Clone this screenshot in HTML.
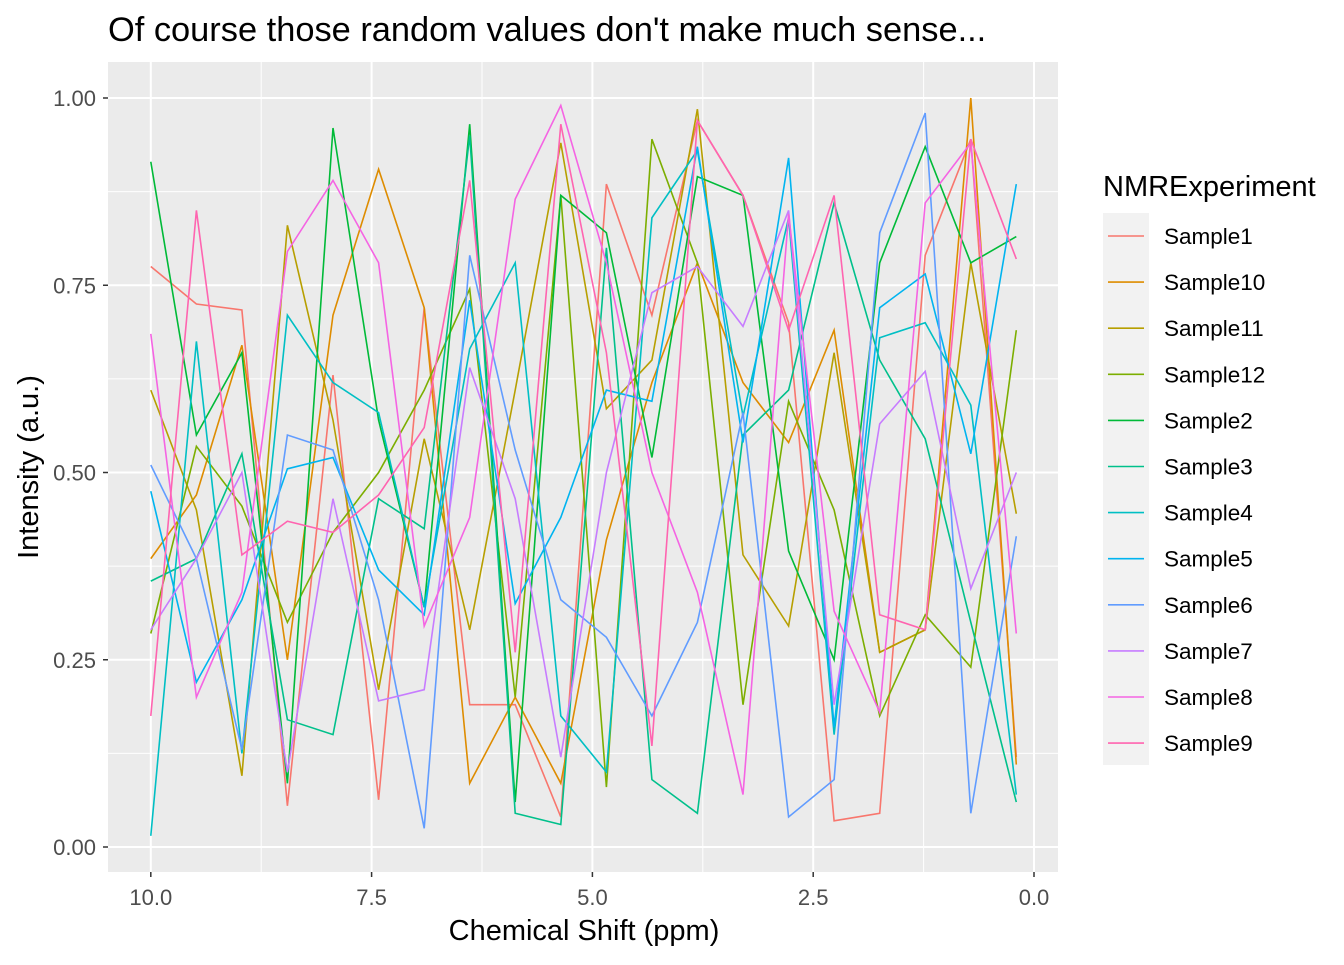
<!DOCTYPE html>
<html><head><meta charset="utf-8"><style>
body{margin:0;background:#fff;}
svg text{font-family:"Liberation Sans",Arial,sans-serif;}
</style></head><body>
<svg id="chart" width="1344" height="960" xmlns="http://www.w3.org/2000/svg">
<text x="108" y="41" font-size="34.4" fill="#000">Of course those random values don't make much sense...</text>
<rect x="108" y="62" width="950" height="810" fill="#EBEBEB"/>
<g id="grid"></g>
<g id="series"></g>
<g id="axes"></g>
<text x="584" y="940" font-size="29" text-anchor="middle">Chemical Shift (ppm)</text>
<text transform="translate(38,467) rotate(-90)" font-size="29" text-anchor="middle">Intensity (a.u.)</text>
<text x="1103" y="196" font-size="29">NMRExperiment</text>
<rect x="1103" y="213" width="46" height="552" fill="#F2F2F2"/>
<g id="legend"></g>
</svg>
<script>
const categories = ["Sample1","Sample10","Sample11","Sample12","Sample2","Sample3","Sample4","Sample5","Sample6","Sample7","Sample8","Sample9"];
const colors = ["#F8766D","#DE8C00","#B79F00","#7CAE00","#00BA38","#00C08B","#00BFC4","#00B4F0","#619CFF","#C77CFF","#F564E3","#FF64B0"];
const xTicks = [10,7.5,5,2.5,0];
const xTickLabels = ["10.0","7.5","5.0","2.5","0.0"];
const yTicks = [0,0.25,0.5,0.75,1];
const yTickLabels = ["0.00","0.25","0.50","0.75","1.00"];
const shifts = [10,9.484,8.968,8.453,7.937,7.421,6.905,6.389,5.874,5.358,4.842,4.326,3.811,3.295,2.779,2.263,1.747,1.232,0.716,0.2];
const s1 = [0.775,0.725,0.717,0.055,0.63,0.063,0.72,0.19,0.19,0.04,0.885,0.71,0.97,0.87,0.70,0.035,0.045,0.79,0.945,0.12];
const s10 = [0.385,0.47,0.67,0.25,0.71,0.905,0.72,0.085,0.20,0.085,0.41,0.62,0.78,0.62,0.54,0.69,0.26,0.29,1.0,0.11];
const s11 = [0.61,0.45,0.095,0.83,0.57,0.21,0.545,0.29,0.61,0.94,0.585,0.65,0.985,0.39,0.295,0.66,0.26,0.29,0.78,0.445];
const s12 = [0.285,0.535,0.455,0.30,0.42,0.50,0.61,0.745,0.20,0.87,0.08,0.945,0.78,0.19,0.595,0.45,0.175,0.31,0.24,0.69];
const s2 = [0.915,0.55,0.66,0.085,0.96,0.57,0.32,0.965,0.06,0.87,0.82,0.52,0.895,0.87,0.395,0.25,0.78,0.935,0.78,0.815];
const s3 = [0.355,0.385,0.525,0.17,0.15,0.465,0.425,0.95,0.045,0.03,0.80,0.09,0.045,0.55,0.61,0.86,0.65,0.545,0.30,0.06];
const s4 = [0.015,0.675,0.125,0.71,0.62,0.58,0.32,0.665,0.78,0.175,0.10,0.84,0.93,0.575,0.84,0.15,0.68,0.70,0.59,0.07];
const s5 = [0.475,0.22,0.33,0.505,0.52,0.37,0.31,0.73,0.325,0.44,0.61,0.595,0.935,0.54,0.92,0.16,0.72,0.765,0.525,0.885];
const s6 = [0.51,0.385,0.13,0.55,0.53,0.33,0.025,0.79,0.53,0.33,0.28,0.175,0.30,0.58,0.04,0.09,0.82,0.98,0.045,0.415];
const s7 = [0.29,0.385,0.50,0.10,0.465,0.195,0.21,0.64,0.465,0.12,0.50,0.74,0.775,0.695,0.85,0.19,0.565,0.635,0.345,0.50];
const s8 = [0.685,0.20,0.34,0.795,0.89,0.78,0.295,0.44,0.865,0.99,0.78,0.50,0.34,0.07,0.845,0.315,0.18,0.86,0.94,0.285];
const s9 = [0.175,0.85,0.39,0.435,0.42,0.47,0.56,0.89,0.26,0.965,0.66,0.135,0.97,0.87,0.69,0.87,0.31,0.29,0.945,0.785];
const seriesValues = [s1,s10,s11,s12,s2,s3,s4,s5,s6,s7,s8,s9];

const NS="http://www.w3.org/2000/svg";
const xScale = v => 1034 - v*88.32;
const yScale = v => 847 - v*749;
function mk(tag, attrs, parent){const e=document.createElementNS(NS,tag);for(const k in attrs)e.setAttribute(k,attrs[k]);parent.appendChild(e);return e;}
const grid=document.getElementById('grid'), axes=document.getElementById('axes'), ser=document.getElementById('series'), leg=document.getElementById('legend');
for(let i=0;i<xTicks.length-1;i++){const m=(xTicks[i]+xTicks[i+1])/2;const l=mk('line',{x1:xScale(m),x2:xScale(m),y1:62,y2:872,stroke:'#fff','stroke-width':1},grid);}
for(let i=0;i<yTicks.length-1;i++){const m=(yTicks[i]+yTicks[i+1])/2;const l=mk('line',{x1:108,x2:1058,y1:yScale(m),y2:yScale(m),stroke:'#fff','stroke-width':1},grid);}
xTicks.forEach((t,i)=>{const x=xScale(t);
 const g=mk('line',{x1:x,x2:x,y1:62,y2:872,stroke:'#fff','stroke-width':2},grid);
 const tk=mk('line',{x1:x,x2:x,y1:872,y2:877,stroke:'#333','stroke-width':1.5},axes);
 const tx=mk('text',{x:x,y:905,'font-size':22,fill:'#4D4D4D','text-anchor':'middle'},axes);tx.textContent=xTickLabels[i];});
yTicks.forEach((t,i)=>{const y=yScale(t);
 const g=mk('line',{x1:108,x2:1058,y1:y,y2:y,stroke:'#fff','stroke-width':2},grid);
 const tk=mk('line',{x1:103,x2:108,y1:y,y2:y,stroke:'#333','stroke-width':1.5},axes);
 const tx=mk('text',{x:96,y:y+8,'font-size':22,fill:'#4D4D4D','text-anchor':'end'},axes);tx.textContent=yTickLabels[i];});
seriesValues.forEach((vals,k)=>{
 const pts=vals.map((v,i)=>xScale(shifts[i]).toFixed(1)+','+yScale(v).toFixed(1)).join(' ');
 const p=mk('polyline',{points:pts,fill:'none',stroke:colors[k],'stroke-width':1.6},ser);
 
 
 const y=236+k*46.1;
 const ll=mk('line',{x1:1108,x2:1144,y1:y,y2:y,stroke:colors[k],'stroke-width':1.6},leg);
 
 
 const lt=mk('text',{x:1164,y:y+8,'font-size':22.5},leg);lt.textContent=categories[k];
 
 
});
</script>
</body></html>
